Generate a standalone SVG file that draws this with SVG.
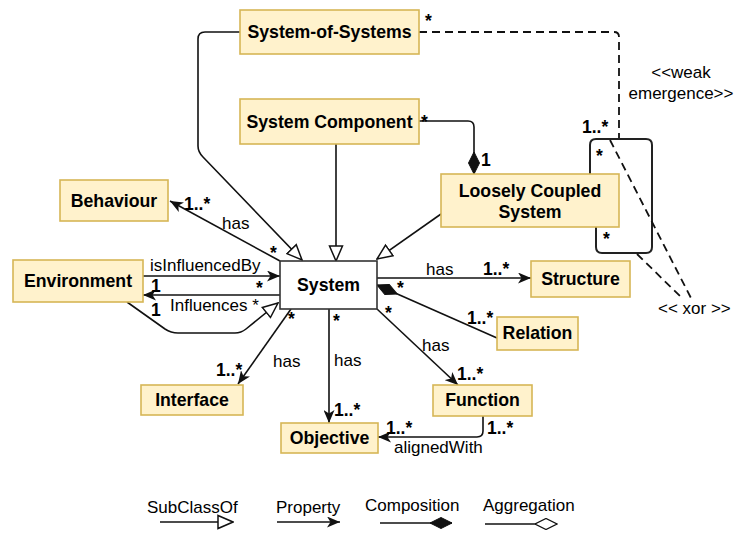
<svg xmlns="http://www.w3.org/2000/svg" width="735" height="534" viewBox="0 0 735 534">
<style>
.n{fill:#fff2cc;stroke:#d6b656;stroke-width:1.6}
.s{fill:#ffffff;stroke:#333333;stroke-width:1.6}
.t{font-family:"Liberation Sans",Arial,sans-serif;font-size:17.7px;font-weight:bold;text-anchor:middle;fill:#000}
.l{font-family:"Liberation Sans",Arial,sans-serif;font-size:17px;fill:#000}
.b{font-family:"Liberation Sans",Arial,sans-serif;font-size:17.5px;font-weight:bold;fill:#000}
.e{fill:none;stroke:#111;stroke-width:1.6}
.d{fill:none;stroke:#111;stroke-width:1.8;stroke-dasharray:8 5}
.p{marker-end:url(#arr)}
.g{marker-end:url(#tri)}
.c{marker-end:url(#dia)}
</style>
<defs>
<marker id="arr" markerUnits="userSpaceOnUse" viewBox="0 0 13 11" refX="13" refY="5.5" markerWidth="13" markerHeight="11" orient="auto">
<path d="M0,0 L13,5.5 L0,11 L3.5,5.5 z" fill="#111"/>
</marker>
<marker id="tri" markerUnits="userSpaceOnUse" viewBox="0 0 17 16" refX="16" refY="8" markerWidth="17" markerHeight="16" orient="auto">
<path d="M1,1.5 L16,8 L1,14.5 z" fill="#fff" stroke="#111" stroke-width="1.5"/>
</marker>
<marker id="dia" markerUnits="userSpaceOnUse" viewBox="0 0 23 12" refX="22.5" refY="6" markerWidth="23" markerHeight="12" orient="auto">
<path d="M0.5,6 L11.5,0.5 L22.5,6 L11.5,11.5 z" fill="#111" stroke="#111" stroke-width="1"/>
</marker>
<marker id="adia" markerUnits="userSpaceOnUse" viewBox="0 0 23 12" refX="22.5" refY="6" markerWidth="23" markerHeight="12" orient="auto">
<path d="M0.5,6 L11.5,0.5 L22.5,6 L11.5,11.5 z" fill="#fff" stroke="#111" stroke-width="1.3"/>
</marker>
</defs>

<g id="connectors">
<path class="e g" d="M240,32 L205,32 Q198,32 198,39 L198,146 Q198,152 203,157 L302,260"/>
<path class="e g" d="M336,144 L336,261"/>
<path class="e g" d="M441,214 L377,259"/>
<path class="e c" d="M419,121 L468,121 Q474,121 474,127 L474,174"/>
<path class="e p" d="M280,261 L170,201"/>
<path class="e p" d="M143,276 L280,276"/>
<path class="e p" d="M280,295 L143,295"/>
<path class="e g" d="M127,302 L165,329 Q171,333 178,333 L235,333 Q241,333 246,329 L278,303"/>
<path class="e p" d="M291,309 L238,384"/>
<path class="e p" d="M329,309 L329,423"/>
<path class="e p" d="M377,309 L458,385"/>
<path class="e p" d="M377,278 L531,278"/>
<path class="e c" d="M497,338 L377,285"/>
<path class="e p" d="M483,416 L483,431 Q483,437 477,437 L378,437"/>
<path class="d" d="M419,32 L614,32 Q619,32 619,37 L619,139"/>
<path d="M590,174 L590,145 Q590,139 596,139 L646,139 Q652,139 652,145 L652,247 Q652,253 646,253 L602,253 Q596,253 596,247 L596,227" fill="none" stroke="#222" stroke-width="2"/>
<path class="d" d="M610,140 L692,300"/>
<path class="d" d="M637,254 L683,299"/>

<text class="b" x="425" y="27">*</text>
<text class="b" x="421" y="128">*</text>
<text class="b" x="481" y="166">1</text>
<text class="b" x="184" y="210">1..*</text>
<text class="l" x="222" y="229">has</text>
<text class="b" x="270" y="259">*</text>
<text class="l" x="150" y="271">isInfluencedBy</text>
<text class="b" x="151" y="292">1</text>
<text class="b" x="256" y="294">*</text>
<text class="l" x="170" y="311">Influences *</text>
<text class="b" x="151" y="316">1</text>
<text class="b" x="288" y="325">*</text>
<text class="l" x="273" y="367">has</text>
<text class="b" x="216" y="376">1..*</text>
<text class="b" x="333" y="327">*</text>
<text class="l" x="334" y="366">has</text>
<text class="b" x="334" y="416">1..*</text>
<text class="b" x="385" y="319">*</text>
<text class="l" x="422" y="351">has</text>
<text class="b" x="457" y="380">1..*</text>
<text class="l" x="426" y="275">has</text>
<text class="b" x="483" y="275">1..*</text>
<text class="b" x="397" y="294">*</text>
<text class="b" x="467" y="324">1..*</text>
<text class="b" x="487" y="434">1..*</text>
<text class="b" x="386" y="434">1..*</text>
<text class="l" x="394" y="453">alignedWith</text>
<text class="b" x="582" y="133">1..*</text>
<text class="b" x="596" y="162">*</text>
<text class="b" x="603" y="245">*</text>
<text class="l" x="681" y="78" text-anchor="middle">&lt;&lt;weak</text>
<text class="l" x="681" y="99" text-anchor="middle">emergence&gt;&gt;</text>
<text class="l" x="658" y="314">&lt;&lt; xor &gt;&gt;</text>
</g>

<g id="system-of-systems"><rect class="n" x="240" y="10" width="179" height="44"/><text class="t" x="329.5" y="38">System-of-Systems</text></g>
<g id="system-component"><rect class="n" x="240" y="99" width="179" height="45"/><text class="t" x="329.5" y="128">System Component</text></g>
<g id="loosely-coupled-system"><rect class="n" x="441" y="174" width="178" height="53"/><text class="t" x="530" y="197">Loosely Coupled</text><text class="t" x="530" y="218">System</text></g>
<g id="behaviour"><rect class="n" x="60" y="180" width="108" height="41"/><text class="t" x="114" y="207">Behaviour</text></g>
<g id="environment"><rect class="n" x="13" y="260" width="130" height="42"/><text class="t" x="78" y="287">Environment</text></g>
<g id="system"><rect class="s" x="280" y="261" width="97" height="48"/><text class="t" x="328.5" y="291">System</text></g>
<g id="structure"><rect class="n" x="531" y="261" width="99" height="36"/><text class="t" x="580.5" y="285">Structure</text></g>
<g id="relation"><rect class="n" x="497" y="317" width="81" height="33"/><text class="t" x="537.5" y="339">Relation</text></g>
<g id="function"><rect class="n" x="433" y="385" width="99" height="31"/><text class="t" x="482.5" y="406">Function</text></g>
<g id="objective"><rect class="n" x="281" y="423" width="97" height="30"/><text class="t" x="329.5" y="444">Objective</text></g>
<g id="interface"><rect class="n" x="141" y="385" width="102" height="30"/><text class="t" x="192" y="406">Interface</text></g>

<g id="legend">
<text class="l" x="147" y="513">SubClassOf</text>
<path class="e g" d="M160,522 L233,522"/>
<text class="l" x="276" y="513">Property</text>
<path class="e p" d="M277,522 L340,522"/>
<text class="l" x="365" y="511">Composition</text>
<path class="e c" d="M380,523 L452,523"/>
<text class="l" x="483" y="511">Aggregation</text>
<path class="e" d="M485,524 L557,524" marker-end="url(#adia)"/>
</g>
</svg>
